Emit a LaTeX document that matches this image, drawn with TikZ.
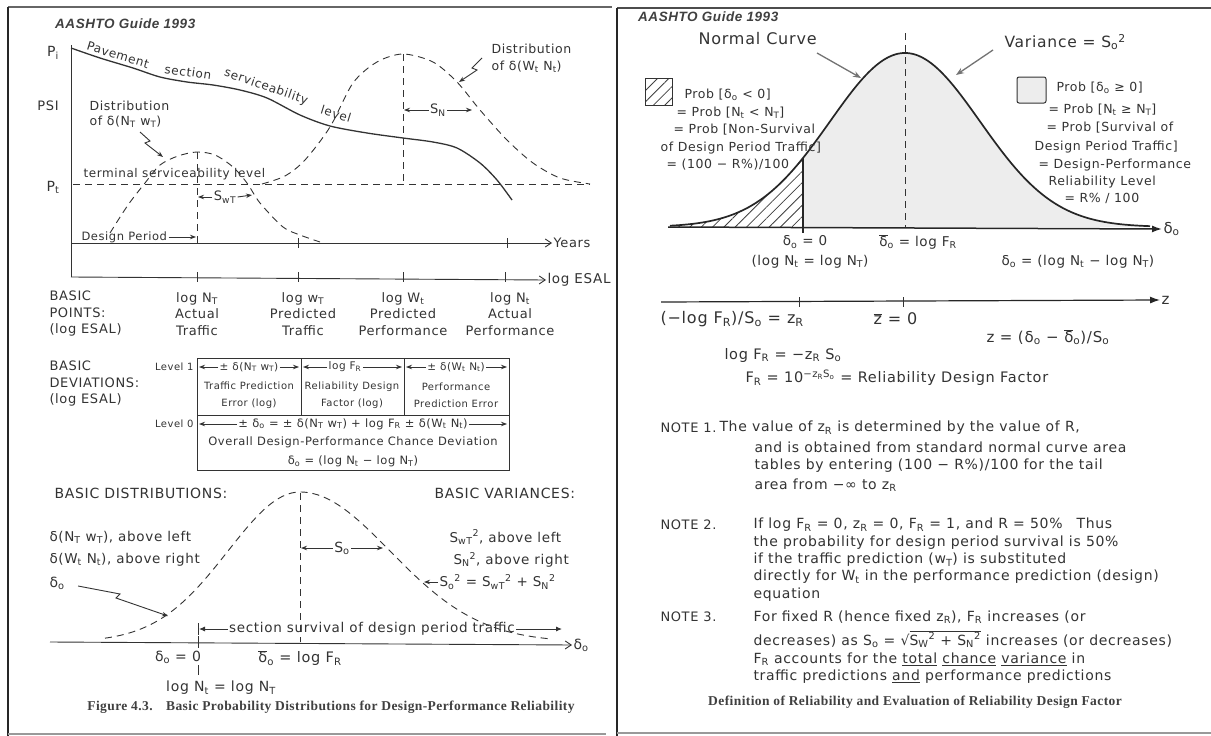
\documentclass[tikz,border=0pt]{standalone}
\usepackage{fontspec}
\setmainfont[LetterSpace=5]{DejaVu Sans}
\newfontfamily\capfont[LetterSpace=3]{Liberation Serif}
\newfontfamily\hdrfont[LetterSpace=4]{Liberation Sans}
\usetikzlibrary{arrows.meta,patterns.meta}
\newcommand\Dsub[1]{\textsubscript{#1}}
\newcommand\Dsup[1]{\textsuperscript{#1}}
\newcommand\Dbar[1]{\ensuremath{\overline{\hbox{#1}}}}
\newcommand\fs[1]{\fontsize{#1}{#1}\selectfont}
\begin{document}
\begin{tikzpicture}[x=1pt,y=-1pt,
  hw/.style={text=black!80, inner sep=0pt, outer sep=1.5pt, font=\fs{12}},
  wl/.style={hw, anchor=west},
  ln/.style={draw=black!80, line width=0.9pt},
  dsh/.style={ln, dash pattern=on 7pt off 5pt},
  axarrow/.style={ln, -{Straight Barb[length=6pt,width=8pt]}},
  arrtip/.style={ln, -{Stealth[length=6pt,width=4.5pt]}},
  hdrstyle/.style={anchor=west, inner sep=0pt, text=black!75, font=\hdrfont\bfseries\itshape\fs{13.5}},
  capstyle/.style={inner sep=0pt, text=black!75, font=\capfont\bfseries\fs{13.5}},
  hatchfill/.style={pattern={Lines[angle=45,distance=8pt,line width=0.8pt]}, pattern color=black!75}
]
\fill[white] (0,0) rectangle (1211,736);
\useasboundingbox (0,0) rectangle (1211,736);

% ---------- page frames
\draw[black!60, line width=1.6pt] (8,7) -- (612,7);
\draw[black!85, line width=2.2pt] (8,7) -- (8,736);
\draw[black!40, line width=1.5pt] (8,734) -- (606,734);
\draw[black!70, line width=1.6pt] (617,8) -- (1211,8);
\draw[black!85, line width=2.5pt] (617,8) -- (617,736);
\draw[black!40, line width=1.5pt] (617,733) -- (1211,733);

% ================= LEFT PAGE =================
\node[hdrstyle] (hdrL) at (55,24) {AASHTO Guide 1993};

\draw[ln] (71,45) -- (71,277);
\node[hw, font=\fs{14}] (pi) at (53,53) {P\Dsub{i}};
\node[hw, font=\fs{13}] (psi) at (48,106) {PSI};
\node[hw, font=\fs{14}] (pt) at (53,187) {P\Dsub{t}};

% pavement serviceability curve
\draw[ln, line width=1.3pt] plot[smooth] coordinates {(71,48) (100,58) (133,68) (160,77) (187,82) (213,85) (240,90) (267,98) (300,115) (330,126) (367,133) (403,138) (433,142) (457,148) (480,163) (497,180) (512,200)};
\tikzset{pvt/.style={hw, font=\fs{12}, inner sep=0pt, outer sep=0pt}}
\node[pvt, rotate=-17] (pv1) at (118,55) {Pavement};
\node[pvt, rotate=-8] (pv2) at (188,72) {section};
\node[pvt, rotate=-19] (pv3) at (266,87) {serviceability};
\node[pvt, rotate=-17] (pv4) at (336,114) {level};

% terminal level
\draw[dsh] (73,184) -- (590,184);
\node[hw, anchor=south west, font=\fs{12}] (term) at (82,181) {terminal serviceability level};

% distributions
\draw[dsh] plot[smooth] coordinates {(110,233) (128,205) (145,183) (160,165) (178,156) (197,152) (215,155) (233,167) (247,183) (260,203) (283,227) (300,235) (320,242)};
\draw[dsh] (197,152) -- (197,243);
\draw[dsh] plot[smooth] coordinates {(262,184) (285,176) (305,160) (330,127) (353,83) (377,62) (403,54) (433,62) (457,82) (480,110) (507,140) (533,163) (560,178) (590,184)};
\draw[dsh] (403,54) -- (403,184);

\node[wl, font=\fs{12.5}] (d1a) at (88,106) {Distribution};
\node[wl, font=\fs{12.5}] (d1b) at (88,122) {of δ(N\Dsub{T} w\Dsub{T})};
\coordinate (d1t) at (163,157);
\draw[arrtip] (140,132) -- (150,141) -- (145,143) -- (d1t);
\node[wl, font=\fs{12.5}] (d2a) at (490,49) {Distribution};
\node[wl, font=\fs{12.5}] (d2b) at (490,67) {of δ(W\Dsub{t} N\Dsub{t})};
\coordinate (d2t) at (459,82);
\draw[arrtip] (482,58) -- (472,68) -- (477,70) -- (d2t);

\node[hw, font=\fs{13}] (sn) at (438,110) {S\Dsub{N}};
\draw[arrtip] (sn.west) -- (404,110);
\draw[arrtip] (sn.east) -- (472,110);
\node[hw, font=\fs{13}] (swt) at (225,197) {S\Dsub{wT}};
\draw[arrtip] (swt.west) -- (198,197);
\draw[arrtip] (swt.east) -- (252,195);

\node[wl, font=\fs{11.5}] (dp) at (80,237) {Design Period};
\draw[arrtip] (dp.east) -- (196,237);

% axes
\node[wl, font=\fs{13}] (yrs) at (552,243) {Years};
\draw[axarrow] (71,243) -- (yrs.west);
\foreach \t in {298,507} \draw[ln] (\t,238) -- (\t,248);
\node[wl, font=\fs{13.5}] (esal) at (546,280) {log ESAL};
\draw[axarrow] (71,277) -- (esal.west);
\foreach \t in {197,298,403,505} \draw[ln] (\t,272) -- (\t,282);

% basic points
\tikzset{bpstyle/.style={hw, align=center, font=\fontsize{13}{16.5}\selectfont}}
\node[hw, anchor=west, align=left, font=\fontsize{13}{16.5}\selectfont] (bpL) at (48,314) {BASIC\\POINTS:\\(log ESAL)};
\node[bpstyle] (bp1) at (197,314) {log N\Dsub{T}\\Actual\\Traffic};
\node[bpstyle] (bp2) at (303,314) {log w\Dsub{T}\\Predicted\\Traffic};
\node[bpstyle] (bp3) at (403,314) {log W\Dsub{t}\\Predicted\\Performance};
\node[bpstyle] (bp4) at (510,314) {log N\Dsub{t}\\Actual\\Performance};

% basic deviations
\node[hw, anchor=west, align=left, font=\fontsize{13}{16.5}\selectfont] (bdL) at (48,384) {BASIC\\DEVIATIONS:\\(log ESAL)};
\draw[ln] (197,358) rectangle (509,470);
\draw[ln] (197,415) -- (509,415);
\draw[ln] (301,358) -- (301,415);
\draw[ln] (404,358) -- (404,415);
\node[hw, anchor=east, font=\fs{10}] (lv1) at (195,367) {Level 1};
\node[hw, anchor=east, font=\fs{10}] (lv0) at (195,424) {Level 0};
\node[hw, font=\fs{10.5}] (c1) at (249,367) {± δ(N\Dsub{T} w\Dsub{T})};
\draw[arrtip] (c1.west) -- (199,367); \draw[arrtip] (c1.east) -- (299,367);
\node[hw, font=\fs{10.5}] (c2) at (345,367) {log F\Dsub{R}};
\draw[arrtip] (c2.west) -- (303,367); \draw[arrtip] (c2.east) -- (402,367);
\node[hw, font=\fs{10.5}] (c3) at (456,367) {± δ(W\Dsub{t} N\Dsub{t})};
\draw[arrtip] (c3.west) -- (406,367); \draw[arrtip] (c3.east) -- (507,367);
\node[hw, align=center, font=\fontsize{10}{17}\selectfont] (t1) at (249,395) {Traffic Prediction\\Error (log)};
\node[hw, align=center, font=\fontsize{10}{17}\selectfont] (t2) at (352,395) {Reliability Design\\Factor (log)};
\node[hw, align=center, font=\fontsize{10}{17}\selectfont] (t3) at (456,395) {Performance\\Prediction Error};
\node[hw, font=\fs{11.5}] (c0) at (353,424) {± δ\Dsub{o} = ± δ(N\Dsub{T} w\Dsub{T}) + log F\Dsub{R} ± δ(W\Dsub{t} N\Dsub{t})};
\draw[arrtip] (c0.west) -- (199,424); \draw[arrtip] (c0.east) -- (507,424);
\node[hw, align=center, font=\fontsize{11.5}{18.5}\selectfont] (t0) at (353,452) {Overall Design-Performance Chance Deviation\\δ\Dsub{o} = (log N\Dsub{t} − log N\Dsub{T})};

% basic distributions
\node[wl, font=\fs{14}] (bdist) at (53,493) {BASIC DISTRIBUTIONS:};
\node[wl, font=\fs{14}] (bvar) at (433,493) {BASIC VARIANCES:};
\draw[dsh] plot[domain=105:300, samples=50, smooth] (\x, {642-150*exp(-0.5*((\x-300)/72)*((\x-300)/72))})
  -- plot[domain=300:550, samples=60, smooth] (\x, {642-150*exp(-0.5*((\x-300)/90)*((\x-300)/90))});
\draw[dsh] (300,493) -- (300,642);
\node[hw, font=\fs{14}] (so) at (342,548) {S\Dsub{o}};
\draw[arrtip] (so.west) -- (301,548); \draw[arrtip] (so.east) -- (383,548);

\node[wl, font=\fs{13.5}] (bl1) at (48,537) {δ(N\Dsub{T} w\Dsub{T}), above left};
\node[wl, font=\fs{13.5}] (bl2) at (48,560) {δ(W\Dsub{t} N\Dsub{t}), above right};
\node[wl, font=\fs{14}] (bl3) at (48,583) {δ\Dsub{o}};
\coordinate (blt) at (168,616);
\draw[arrtip] (bl3.east) ++(12,3) -- (120,594) -- (116,598) -- (blt);

\node[wl, font=\fs{13.5}] (br1) at (448,537) {S\Dsub{wT}\Dsup{2}, above left};
\node[wl, font=\fs{13.5}] (br2) at (452,560) {S\Dsub{N}\Dsup{2}, above right};
\node[wl, font=\fs{13.5}] (br3) at (438,582) {S\Dsub{o}\Dsup{2} = S\Dsub{wT}\Dsup{2} + S\Dsub{N}\Dsup{2}};
\draw[arrtip] (br3.west) -- (424,582);

\node[wl, font=\fs{14}] (dlab) at (572,645) {δ\Dsub{o}};
\draw[axarrow] (50,642) -- (dlab.west);
\draw[ln] (198,636) -- (198,648);
\node[hw, font=\fs{13.5}] (surv) at (372,629) {section survival of design period traffic};
\draw[ln, -{Latex[length=6pt,width=5pt]}] (surv.west) -- (199,629);
\draw[ln] (198,623) -- (198,635);
\draw[ln, -{Latex[length=6pt,width=5pt]}] (surv.east) -- (562,629);

\node[hw, font=\fs{14}] (dz) at (178,657) {δ\Dsub{o} = 0};
\draw[ln] (198,665) -- (198,675);
\node[hw, font=\fs{14}] (lnn) at (221,688) {log N\Dsub{t} = log N\Dsub{T}};
\node[hw, font=\fs{14.5}] (dbr) at (300,658) {\Dbar{δ}\Dsub{o} = log F\Dsub{R}};

\node[capstyle] (capL) at (331,707) {Figure 4.3.\quad Basic Probability Distributions for Design-Performance Reliability};

% ================= RIGHT PAGE =================
\node[hdrstyle] (hdrR) at (638,17) {AASHTO Guide 1993};

\fill[hatchfill] (670,227) -- plot[domain=670:803, samples=40] (\x, {227-174*exp(-0.5*((\x-905)/75)*((\x-905)/75))}) -- (803,227) -- cycle;
\fill[gray!14] (803,227) -- plot[domain=803:1150, samples=80] (\x, {227-174*exp(-0.5*((\x-905)/75)*((\x-905)/75))}) -- (1150,227) -- cycle;
\draw[dsh, line width=1pt] (905,33) -- (905,227);
\draw[draw=black!85, line width=1.7pt] plot[domain=670:1150, samples=100, smooth] (\x, {227-174*exp(-0.5*((\x-905)/75)*((\x-905)/75))});
\node[wl, font=\fs{15}] (dlabR) at (1162,229) {δ\Dsub{o}};
\draw[draw=black!85, line width=1.5pt, -{Latex[length=10pt,width=7pt]}] (668,227) -- (dlabR.west);
\draw[draw=black!85, line width=1.5pt] (803,158) -- (803,233);

\node[wl, font=\fs{16}] (ncur) at (697,39) {Normal Curve};
\node[wl, font=\fs{15.5}] (vari) at (1003,42) {Variance = S\Dsub{o}\Dsup{2}};
\coordinate (ncT) at (861,78);
\coordinate (vaT) at (956,75);
\draw[draw=black!55, line width=1.3pt, -{Stealth[length=8pt,width=6pt]}] (817,53) -- (ncT);
\draw[draw=black!55, line width=1.3pt, -{Stealth[length=8pt,width=6pt]}] (993,50) -- (vaT);

\draw[line width=1pt, black!80, hatchfill] (645,78) rectangle (672,105);
\draw[line width=1pt, black!80, fill=gray!14, rounded corners=2pt] (1017,77) rectangle (1046,103);

\tikzset{plstyle/.style={wl, font=\fs{12.5}}}
\node[plstyle] (pl1) at (683,95) {Prob [δ\Dsub{o} < 0]};
\node[plstyle] (pl2) at (675,113) {= Prob [N\Dsub{t} < N\Dsub{T}]};
\node[plstyle] (pl3) at (672,130) {= Prob [Non-Survival};
\node[plstyle] (pl4) at (659,148) {of Design Period Traffic]};
\node[plstyle] (pl5) at (665,165) {= (100 − R\%)/100};

\node[plstyle] (pr1) at (1055,88) {Prob [δ\Dsub{o} ≥ 0]};
\node[plstyle] (pr2) at (1047,110) {= Prob [N\Dsub{t} ≥ N\Dsub{T}]};
\node[plstyle] (pr3) at (1045,128) {= Prob [Survival of};
\node[plstyle] (pr4) at (1033,147) {Design Period Traffic]};
\node[plstyle] (pr5) at (1037,165) {= Design-Performance};
\node[plstyle] (pr6) at (1047,182) {Reliability Level};
\node[plstyle] (pr7) at (1063,198) {= R\% / 100};

\node[hw, font=\fs{13.5}] (rz) at (805,242) {δ\Dsub{o} = 0};
\node[hw, font=\fs{13.5}] (rl) at (810,262) {(log N\Dsub{t} = log N\Dsub{T})};
\node[hw, font=\fs{13.5}] (rb) at (918,242) {\Dbar{δ}\Dsub{o} = log F\Dsub{R}};
\node[wl, font=\fs{13.5}] (rd) at (1000,262) {δ\Dsub{o} = (log N\Dsub{t} − log N\Dsub{T})};

% z axis
\node[wl, font=\fs{15}] (zl) at (1160,300) {z};
\draw[draw=black!85, line width=1.2pt, -{Latex[length=10pt,width=7pt]}] (661,302) -- (zl.west);
\draw[ln] (799,297) -- (799,307);
\draw[ln] (903,297) -- (903,307);
\node[wl, font=\fs{16}] (zr) at (659,319) {(−log F\Dsub{R})/S\Dsub{o} = z\Dsub{R}};
\node[wl, font=\fs{16}] (zb) at (872,319) {\Dbar{z} = 0};
\node[wl, font=\fs{15}] (zd) at (985,337) {z = (δ\Dsub{o} − \Dbar{δ}\Dsub{o})/S\Dsub{o}};
\node[wl, font=\fs{14.5}] (lf) at (723,355) {log F\Dsub{R} = −z\Dsub{R} S\Dsub{o}};
\node[wl, font=\fs{14.5}] (fr) at (744,378) {F\Dsub{R} = 10\Dsup{−z\Dsub{R}S\Dsub{o}} = Reliability Design Factor};

% notes
\tikzset{ntstyle/.style={wl, font=\fs{14}}, ntlab/.style={wl, font=\fs{13}}}
\node[ntlab] (n1) at (659,428) {NOTE 1.};
\node[ntstyle] (n1a) at (718,428) {The value of z\Dsub{R} is determined by the value of R,};
\node[ntstyle] (n1b) at (753,447) {and is obtained from standard normal curve area};
\node[ntstyle] (n1c) at (753,466) {tables by entering (100 − R\%)/100 for the tail};
\node[ntstyle] (n1d) at (753,485) {area from −∞ to z\Dsub{R}};

\node[ntlab] (n2) at (659,525) {NOTE 2.};
\node[ntstyle] (n2a) at (752,525) {If log F\Dsub{R} = 0, z\Dsub{R} = 0, F\Dsub{R} = 1, and R = 50\%\quad Thus};
\node[ntstyle] (n2b) at (752,543) {the probability for design period survival is 50\%};
\node[ntstyle] (n2c) at (752,560) {if the traffic prediction (w\Dsub{T}) is substituted};
\node[ntstyle] (n2d) at (752,577) {directly for W\Dsub{t} in the performance prediction (design)};
\node[ntstyle] (n2e) at (752,595) {equation};

\node[ntlab] (n3) at (659,617) {NOTE 3.};
\node[ntstyle] (n3a) at (752,617) {For fixed R (hence fixed z\Dsub{R}), F\Dsub{R} increases (or};
\node[ntstyle] (n3b) at (752,639) {decreases) as S\Dsub{o} = √\Dbar{S\Dsub{W}\Dsup{2} + S\Dsub{N}\Dsup{2}} increases (or decreases)};
\node[ntstyle] (n3c) at (752,659) {F\Dsub{R} accounts for the \underline{total} \underline{chance} \underline{variance} in};
\node[ntstyle] (n3d) at (752,677) {traffic predictions \underline{and} performance predictions};

\node[capstyle] (capR) at (915,702) {Definition of Reliability and Evaluation of Reliability Design Factor};
\end{tikzpicture}
\end{document}
